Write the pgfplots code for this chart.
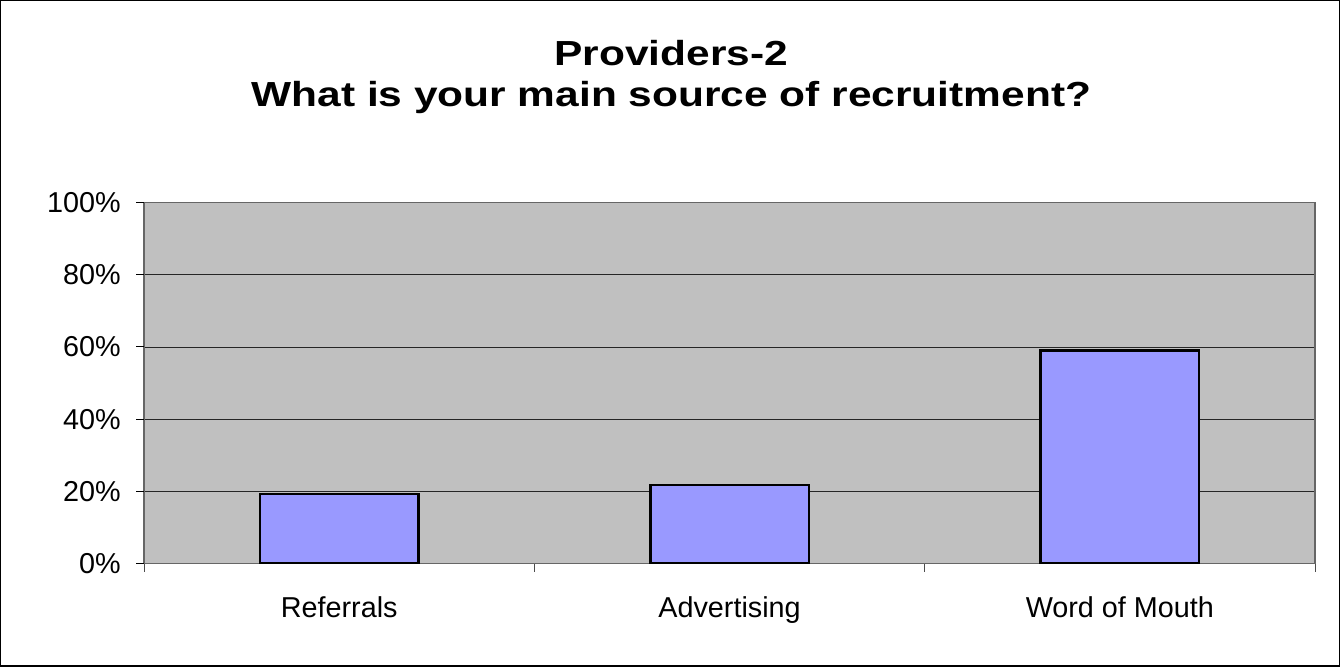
\documentclass[border=0pt]{standalone}
\usepackage{pgfplots}
\pgfplotsset{compat=1.18}
\usepackage{fontspec}
\setmainfont{Liberation Sans}
\definecolor{plotbg}{RGB}{192,192,192}
\definecolor{barfill}{RGB}{153,153,255}
\begin{document}
\begin{tikzpicture}[x=1pt,y=1pt]
% outer frame (1 px = 0.75pt)
\draw[black, line width=0.9pt] (-107.25,-76.5) rectangle (893.25,420.75);
\begin{axis}[
    at={(0,0)}, anchor=south west,
    scale only axis,
    width=875pt, height=270pt,
    ymin=0, ymax=1,
    xmin=-0.5, xmax=2.5,
    ytick={0,0.2,0.4,0.6,0.8,1},
    yticklabels={0\%,20\%,40\%,60\%,80\%,100\%},
    xtick={0,1,2},
    xticklabels={Referrals,Advertising,Word of Mouth},
    minor xtick={-0.5,0.5,1.5,2.5},
    axis background/.style={fill=plotbg},
    axis line style={draw=gray!80!black, line width=1.2pt},
    ymajorgrids,
    major grid style={black!85, line width=0.5pt},
    major tick length=0pt,
    minor tick length=6pt,
    extra y ticks={0,0.2,0.4,0.6,0.8,1},
    extra y tick labels={},
    extra y tick style={major tick length=6pt, tick align=outside, grid=none, tick style={black, line width=0.6pt}},
    tick align=outside,
    xtick pos=bottom, ytick pos=left,
    minor tick style={black!70, line width=0.6pt},
    ticklabel style={font=\fontsize{21.5}{24}\selectfont},
    xticklabel style={yshift=-21pt},
    yticklabel style={xshift=-14pt},
    /pgf/number format/assume math mode=true,
    ybar, bar width=118.5pt,
    title style={font=\bfseries\fontsize{26}{30}\selectfont, align=center, yshift=57pt, xshift=-43.5pt},
    title={\scalebox{1.22}[1]{Providers-2}\\\scalebox{1.22}[1]{What is your main source of recruitment?}},
]
\addplot[draw=black, line width=1.9pt, fill=barfill] coordinates {
    (0,0.193) (1,0.217) (2,0.590)
};
\end{axis}
\end{tikzpicture}
\end{document}
